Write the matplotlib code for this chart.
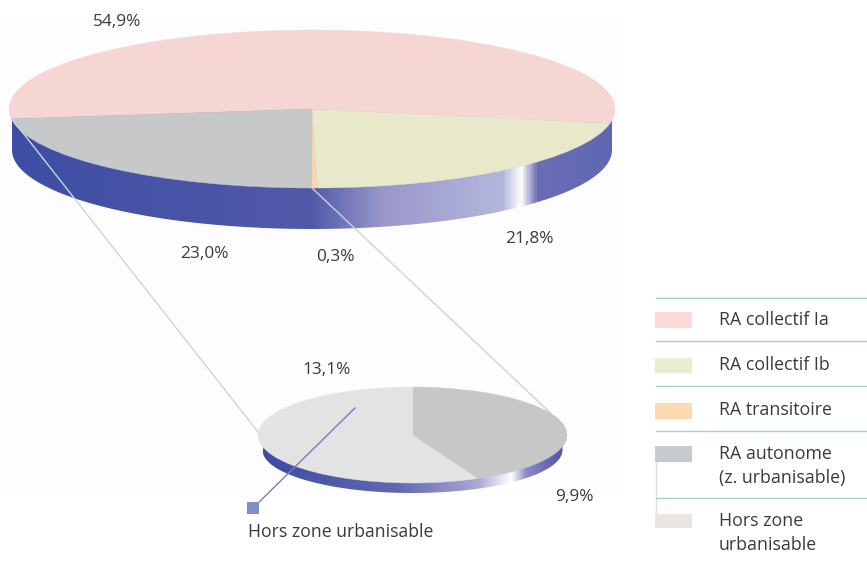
import numpy as np
import matplotlib
matplotlib.use('Agg')
import matplotlib.pyplot as plt
from matplotlib.colors import LinearSegmentedColormap
from matplotlib.patches import Wedge, Rectangle, Polygon
from matplotlib.transforms import Affine2D

plt.rcParams['font.family'] = ['Open Sans', 'DejaVu Sans']

# data
main_labels = ['RA transitoire', 'RA collectif Ib', 'RA collectif Ia', 'RA autonome']
main_values = [0.3, 21.8, 54.9, 23.0]
main_texts = ['0,3%', '21,8%', '54,9%', '23,0%']
sub_labels = ['RA autonome', 'Hors zone urbanisable']
sub_values = [9.9, 13.1]
sub_texts = ['9,9%', '13,1%']
legend_labels = ['RA collectif Ia', 'RA collectif Ib', 'RA transitoire',
                 'RA autonome\n(z. urbanisable)', 'Hors zone\nurbanisable']

# colours
main_colors = ['#FBD5AE', '#E8E8CB', '#F6D6D3', '#C6C8CA']
sub_colors = ['#C6C7C7', '#E2E3E3']
legend_colors = ['#FBD9D7', '#EBEDD0', '#FDD9B0', '#C5CBCE', '#E8E5E3']
text_col = '#3A3A3A'
W, H = 867, 561

main_side = [(0.0, '#3E4EA4'), (0.50, '#5259A9'), (0.62, '#9A98CC'), (0.82, '#B4B6DC'),
             (0.85, '#FFFFFF'), (0.878, '#6A6DB5'), (1.0, '#6067B2')]
sub_side = [(0.0, '#3C4CA4'), (0.45, '#6268B2'), (0.72, '#A9A9D5'), (0.83, '#FFFFFF'),
            (0.88, '#8A88C6'), (1.0, '#4E56A8')]


def py(y):
    # reference is measured from the top
    return H - y


def pie3d(ax, cx, cy, rx, ry, rim, values, colors, start, side_stops, z):
    # rim first, as a gradient clipped to the visible lower half
    rim_rx, rim_cy, rim_ry = rim
    t = np.radians(np.linspace(180, 360, 200))
    xs = cx + rim_rx * np.cos(t)
    bottom = py(rim_cy) + rim_ry * np.sin(t)
    outline = np.r_[np.c_[xs, bottom], [[cx + rim_rx, py(cy)], [cx - rim_rx, py(cy)]]]
    clip = Polygon(outline, closed=True, transform=ax.transData, fc='none', ec='none')
    ax.add_patch(clip)
    cm = LinearSegmentedColormap.from_list('side', side_stops)
    im = ax.imshow(np.linspace(0, 1, 600)[None, :], cmap=cm, aspect='auto', zorder=z,
                   extent=[cx - rim_rx, cx + rim_rx, py(rim_cy + rim_ry), py(cy)])
    im.set_clip_path(clip)

    # top face, counter clockwise
    tr = Affine2D().scale(rx, ry).translate(cx, py(cy)) + ax.transData
    ang = start
    for v, c in zip(values, colors):
        a2 = ang + v / sum(values) * 360
        ax.add_patch(Wedge((0, 0), 1, ang, a2, fc=c, ec=c, lw=0.3, transform=tr, zorder=z + 0.5))
        ang = a2


fig = plt.figure(figsize=(W / 100, H / 100), dpi=100)
ax = fig.add_axes([0, 0, 1, 1])

# faint tint of the scanned panel behind the pies
ax.add_patch(Rectangle((0, py(497)), 618, 477, fc='#FDFDFE', ec='none', zorder=0))

pie3d(ax, 312, 109, 303, 79, (300, 150, 79), main_values, main_colors, 270, main_side, 1)
sub_start = 90 - 360 * sub_values[0] / sum(sub_values)
pie3d(ax, 412.5, 435, 154.5, 48, (150, 450, 43), sub_values, sub_colors, sub_start, sub_side, 4)

# lines linking the two pies
ax.plot([12, 262], [py(119), py(437)], color='#C8D6DC', lw=1, zorder=3)
ax.plot([312, 560], [py(188), py(422)], color='#C8D6DC', lw=1, zorder=3)

# callout
ax.plot([355, 253], [py(408), py(508)], color='#7080C4', lw=1, zorder=6)
ax.add_patch(Rectangle((247, py(514)), 12, 12, fc='#7F8FCB', ec='none', zorder=6))
ax.text(248, py(532), 'Hors zone urbanisable', fontsize=12.7, color=text_col, va='center')

# value labels
main_pos = [(335, 257), (529, 239), (117, 22), (204, 254)]
for s, (x, y) in zip(main_texts, main_pos):
    ax.text(x, py(y), s, fontsize=12.4, color=text_col, ha='center', va='center')
sub_pos = [(574, 497), (327, 370)]
for s, (x, y) in zip(sub_texts, sub_pos):
    ax.text(x, py(y), s, fontsize=12.4, color=text_col, ha='center', va='center')

# legend
for y in [298, 341, 386, 431, 498]:
    ax.plot([656, W], [py(y), py(y)], color='#A9CCCF', lw=1, zorder=2)
ax.plot([655.5, 655.5], [py(462), py(514)], color='#DDE0E2', lw=1, zorder=1)
swatch_y = [(312, 328), (358, 373), (403, 419), (446, 462), (514, 528)]
text_y = [320, 365, 410, 466, 533]
for lab, c, (y0, y1), ty in zip(legend_labels, legend_colors, swatch_y, text_y):
    ax.add_patch(Rectangle((655, py(y1)), 37, y1 - y0, fc=c, ec='none', zorder=3))
    ax.text(719, py(ty), lab, fontsize=12.8, color=text_col, va='center', linespacing=1.4)

ax.set_xlim(0, W)
ax.set_ylim(0, H)
ax.axis('off')
fig.savefig('out.png', dpi=100)
